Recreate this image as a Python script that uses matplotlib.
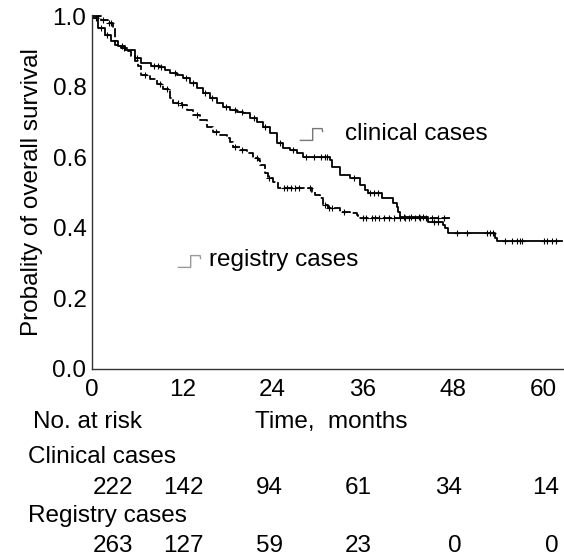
import numpy as np
import matplotlib
matplotlib.use("Agg")
import matplotlib.pyplot as plt
from matplotlib.path import Path

plt.rcParams["font.family"] = ["Liberation Sans", "DejaVu Sans"]

# Kaplan-Meier steps (months, survival after the step)
clin_t = [0.13, 0.80, 1.73, 2.53, 3.46, 4.39, 5.72, 6.52, 7.85, 9.04, 9.71,
          10.37, 11.30, 12.10, 13.03, 13.96, 14.76, 15.69, 16.62, 17.42, 18.35,
          19.28, 20.08, 21.01, 21.94, 22.74, 23.67, 24.60, 25.40, 26.33, 27.26,
          28.06, 31.65, 31.91, 32.98, 34.31, 35.64, 36.30, 36.70, 38.56, 40.03,
          40.56, 40.69, 40.96, 44.68, 46.68, 46.94, 47.34, 53.59, 53.86]
clin_s = [0.994, 0.966, 0.946, 0.929, 0.915, 0.904, 0.881, 0.867, 0.858, 0.856, 0.847,
          0.839, 0.833, 0.824, 0.810, 0.796, 0.782, 0.768, 0.754, 0.742, 0.734,
          0.728, 0.725, 0.711, 0.700, 0.686, 0.669, 0.640, 0.626, 0.620, 0.612,
          0.601, 0.592, 0.572, 0.550, 0.541, 0.521, 0.507, 0.499, 0.484, 0.470,
          0.459, 0.445, 0.431, 0.416, 0.408, 0.399, 0.385, 0.371, 0.363]
clin_end = 62.5
clin_cens = [0.5, 1.2, 2.0, 4.0, 6.0, 8.3, 8.8, 9.2, 11.0, 12.5, 13.5, 15.0, 16.0,
             17.8, 19.0, 20.0, 21.5, 23.0, 25.0, 26.8, 28.5, 29.5, 30.5, 31.0, 31.3,
             34.8, 37.0, 37.5, 38.0, 41.5, 42.5, 43.5, 44.0, 45.5, 46.0, 48.5, 49.9,
             52.5, 52.9, 53.4, 54.9, 55.9, 56.5, 56.9, 57.2, 60.2, 60.6, 61.2, 61.8]

reg_t = [1.2, 2.13, 2.79, 3.06, 3.86, 4.79, 5.19, 5.72, 6.12, 6.52, 7.71, 8.64,
         9.44, 10.37, 10.77, 11.97, 12.63, 13.43, 14.36, 15.29, 16.09, 17.02,
         17.95, 18.35, 18.75, 19.68, 20.61, 21.41, 22.07, 22.34, 23.0, 23.4,
         24.07, 24.73, 29.26, 29.65, 30.32, 30.72, 31.38, 32.98, 34.31, 35.24, 35.37]
reg_s = [0.989, 0.980, 0.966, 0.918, 0.909, 0.901, 0.887, 0.873, 0.858, 0.833,
         0.822, 0.807, 0.793, 0.768, 0.754, 0.748, 0.734, 0.720, 0.705, 0.686,
         0.671, 0.663, 0.654, 0.643, 0.629, 0.620, 0.612, 0.598, 0.592, 0.578,
         0.555, 0.541, 0.530, 0.513, 0.501, 0.493, 0.484, 0.465, 0.456, 0.445,
         0.442, 0.436, 0.428]
reg_end = 47.6
reg_cens = [0.8, 1.5, 2.3, 2.6, 4.2, 7.0, 9.0, 10.0, 11.5, 12.0, 14.0, 16.5, 19.0,
            20.0, 22.0, 23.5, 25.5, 26.0, 26.5, 27.0, 27.5, 29.0, 31.0, 31.5, 32.0,
            33.5, 36.0, 36.5, 37.2, 37.6, 38.2, 38.8, 39.5, 40.2, 41.0, 41.6, 42.2,
            43.0, 43.7, 44.5, 45.2, 46.0, 46.8]

risk_cols = [0, 12, 24, 36, 48, 60]
risk_clin = [222, 142, 94, 61, 34, 14]
risk_reg = [263, 127, 59, 23, 0, 0]


def km_arrays(t, s, end):
    x = np.r_[0, t, end]
    y = np.r_[1.0, s, s[-1]]
    return x, y


def surv_at(t, s, times):
    idx = np.searchsorted(t, times, side="right")
    return np.r_[1.0, s][idx]


fig = plt.figure(figsize=(5.64, 5.59), dpi=100)
ax = fig.add_axes([0.163, 0.340, 0.837, 0.633])

x, y = km_arrays(clin_t, clin_s, clin_end)
ax.step(x, y, where="post", color="black", lw=1.3)
ax.plot(clin_cens, surv_at(clin_t, clin_s, clin_cens), ls="none", marker="+",
        ms=5, mew=0.8, color="black")

x, y = km_arrays(reg_t, reg_s, reg_end)
ax.step(x, y, where="post", color="black", lw=1.3, ls=(0, (5, 1.5)))
ax.plot(reg_cens, surv_at(reg_t, reg_s, reg_cens), ls="none", marker="+",
        ms=5, mew=0.8, color="black")

ax.set_xlim(0, 62.8)
ax.set_ylim(0, 1.003)
ax.set_xticks(risk_cols)
ax.set_yticks([0, 0.2, 0.4, 0.6, 0.8, 1.0])
ax.set_yticklabels(["0.0", "0.2", "0.4", "0.6", "0.8", "1.0"])
ax.tick_params(length=0, labelsize=17.5, pad=4)
ax.tick_params(axis="x", pad=7)
for side in ["top", "right"]:
    ax.spines[side].set_visible(False)
for side in ["left", "bottom"]:
    ax.spines[side].set_color("#333333")
    ax.spines[side].set_linewidth(1.0)
ax.set_ylabel("Probality of overall survival", fontsize=17.5, labelpad=7)

# legend-like step icons
step_icon = Path([(-1.0, -0.5), (0.1, -0.5), (0.1, 0.5), (0.9, 0.5), (0.95, 0.2)])
ax.plot([0.465], [0.665], transform=ax.transAxes, marker=step_icon, ms=17,
        mew=1.0, mfc="none", mec="#777777", ls="none")
ax.text(0.537, 0.665, "clinical cases", transform=ax.transAxes, fontsize=17.5,
        va="center", ha="left")
ax.plot([0.205], [0.305], transform=ax.transAxes, marker=step_icon, ms=17,
        mew=1.0, mfc="none", mec="#999999", ls="none")
ax.text(0.247, 0.307, "registry cases", transform=ax.transAxes, fontsize=17.5,
        va="center", ha="left")

# number at risk table
tr = ax.get_xaxis_transform()
ax.text(-0.125, -0.15, "No. at risk", transform=ax.transAxes, fontsize=17.5, va="center")
ax.text(21.7, -0.15, "Time,  months", transform=tr, fontsize=17.5, va="center")
ax.text(-0.135, -0.249, "Clinical cases", transform=ax.transAxes, fontsize=17.5, va="center")
ax.text(-0.135, -0.415, "Registry cases", transform=ax.transAxes, fontsize=17.5, va="center")
col_right = [5.45, 14.8, 25.4, 37.2, 49.2, 62.1]
for xr, a, b in zip(col_right, risk_clin, risk_reg):
    ax.text(xr, -0.336, str(a), transform=tr, fontsize=17.5, ha="right", va="center")
    ax.text(xr, -0.50, str(b), transform=tr, fontsize=17.5, ha="right", va="center")

fig.savefig("out.png", dpi=100)
